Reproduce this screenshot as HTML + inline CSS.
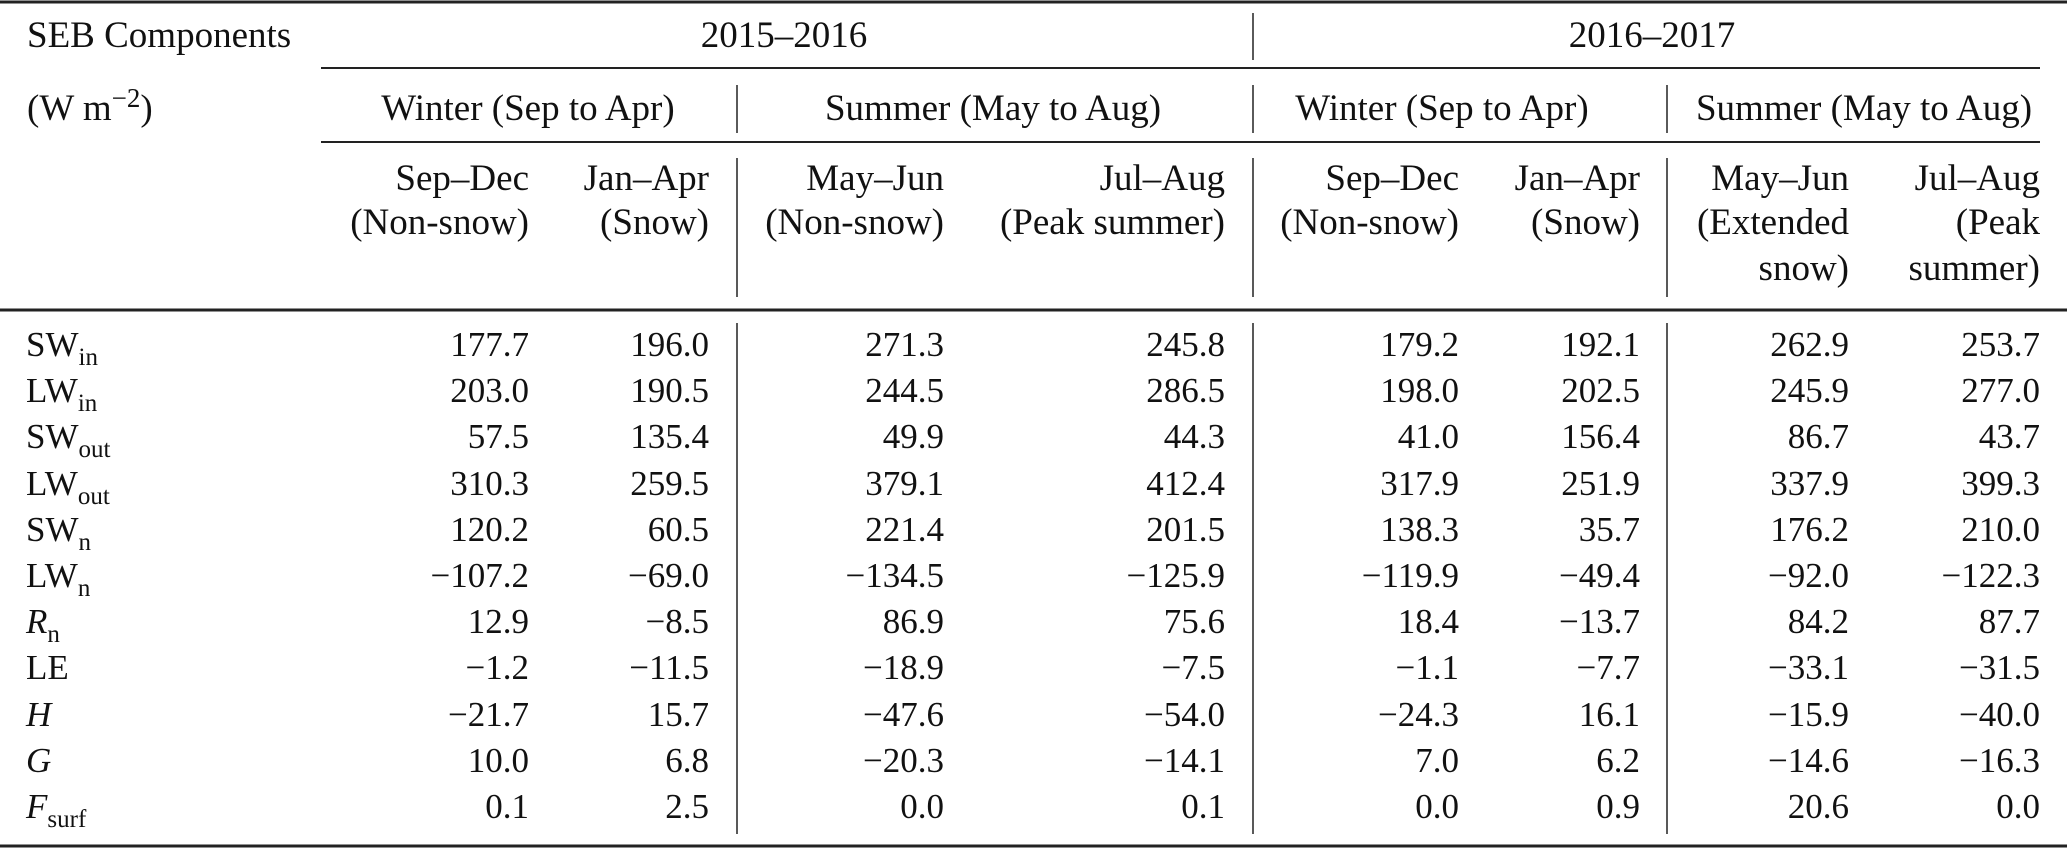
<!DOCTYPE html>
<html><head><meta charset="utf-8"><style>
html,body{margin:0;padding:0;background:#fff;}
svg{display:block;}
text{font-family:"Liberation Serif",serif;font-size:35px;fill:#111;}
.h{font-size:37px;}
.s{font-size:25px;}
.sup{font-size:27px;}
</style></head><body>
<svg width="2067" height="849" viewBox="0 0 2067 849">
<g stroke="#222">
<line x1="0" y1="2" x2="2067" y2="2" stroke-width="3"/>
<line x1="321" y1="68" x2="2040" y2="68" stroke-width="2"/>
<line x1="321" y1="142" x2="2040" y2="142" stroke-width="2"/>
<line x1="0" y1="310" x2="2067" y2="310" stroke-width="3"/>
<line x1="0" y1="846" x2="2067" y2="846" stroke-width="3"/>
<line x1="1253" y1="13" x2="1253" y2="60" stroke-width="1.5"/>
<line x1="737" y1="85" x2="737" y2="133" stroke-width="1.5"/>
<line x1="1253" y1="85" x2="1253" y2="133" stroke-width="1.5"/>
<line x1="1667" y1="85" x2="1667" y2="133" stroke-width="1.5"/>
<line x1="737" y1="158" x2="737" y2="297" stroke-width="1.5"/>
<line x1="1253" y1="158" x2="1253" y2="297" stroke-width="1.5"/>
<line x1="1667" y1="158" x2="1667" y2="297" stroke-width="1.5"/>
<line x1="737" y1="323" x2="737" y2="834" stroke-width="1.5"/>
<line x1="1253" y1="323" x2="1253" y2="834" stroke-width="1.5"/>
<line x1="1667" y1="323" x2="1667" y2="834" stroke-width="1.5"/>
</g>
<g class="h">
<text class="h" x="27" y="47">SEB Components</text>
<text class="h" x="27" y="120">(W m<tspan class="sup" dy="-13">−2</tspan><tspan dy="13">)</tspan></text>
</g>
<g text-anchor="middle">
<text class="h" x="784" y="47">2015–2016</text>
<text class="h" x="1652" y="47">2016–2017</text>
<text class="h" x="528" y="120">Winter (Sep to Apr)</text>
<text class="h" x="993" y="120">Summer (May to Aug)</text>
<text class="h" x="1442" y="120">Winter (Sep to Apr)</text>
<text class="h" x="1864" y="120">Summer (May to Aug)</text>
</g>
<g text-anchor="end">
<text class="h" x="529" y="190">Sep–Dec</text><text class="h" x="529" y="234">(Non-snow)</text>
<text class="h" x="709" y="190">Jan–Apr</text><text class="h" x="709" y="234">(Snow)</text>
<text class="h" x="944" y="190">May–Jun</text><text class="h" x="944" y="234">(Non-snow)</text>
<text class="h" x="1225" y="190">Jul–Aug</text><text class="h" x="1225" y="234">(Peak summer)</text>
<text class="h" x="1459" y="190">Sep–Dec</text><text class="h" x="1459" y="234">(Non-snow)</text>
<text class="h" x="1640" y="190">Jan–Apr</text><text class="h" x="1640" y="234">(Snow)</text>
<text class="h" x="1849" y="190">May–Jun</text><text class="h" x="1849" y="234">(Extended</text><text class="h" x="1849" y="280">snow)</text>
<text class="h" x="2040" y="190">Jul–Aug</text><text class="h" x="2040" y="234">(Peak</text><text class="h" x="2040" y="280">summer)</text>
</g>
<g>
<text x="26" y="356">SW<tspan class="s" dy="9">in</tspan></text>
<text x="26" y="402">LW<tspan class="s" dy="9">in</tspan></text>
<text x="26" y="448">SW<tspan class="s" dy="9">out</tspan></text>
<text x="26" y="495">LW<tspan class="s" dy="9">out</tspan></text>
<text x="26" y="541">SW<tspan class="s" dy="9">n</tspan></text>
<text x="26" y="587">LW<tspan class="s" dy="9">n</tspan></text>
<text x="26" y="633"><tspan font-style="italic">R</tspan><tspan class="s" dy="9">n</tspan></text>
<text x="26" y="679">LE</text>
<text x="26" y="726" font-style="italic">H</text>
<text x="26" y="772" font-style="italic">G</text>
<text x="26" y="818"><tspan font-style="italic">F</tspan><tspan class="s" dy="9">surf</tspan></text>
</g>
<g text-anchor="end">
<text x="529" y="356">177.7</text><text x="709" y="356">196.0</text><text x="944" y="356">271.3</text><text x="1225" y="356">245.8</text><text x="1459" y="356">179.2</text><text x="1640" y="356">192.1</text><text x="1849" y="356">262.9</text><text x="2040" y="356">253.7</text>
<text x="529" y="402">203.0</text><text x="709" y="402">190.5</text><text x="944" y="402">244.5</text><text x="1225" y="402">286.5</text><text x="1459" y="402">198.0</text><text x="1640" y="402">202.5</text><text x="1849" y="402">245.9</text><text x="2040" y="402">277.0</text>
<text x="529" y="448">57.5</text><text x="709" y="448">135.4</text><text x="944" y="448">49.9</text><text x="1225" y="448">44.3</text><text x="1459" y="448">41.0</text><text x="1640" y="448">156.4</text><text x="1849" y="448">86.7</text><text x="2040" y="448">43.7</text>
<text x="529" y="495">310.3</text><text x="709" y="495">259.5</text><text x="944" y="495">379.1</text><text x="1225" y="495">412.4</text><text x="1459" y="495">317.9</text><text x="1640" y="495">251.9</text><text x="1849" y="495">337.9</text><text x="2040" y="495">399.3</text>
<text x="529" y="541">120.2</text><text x="709" y="541">60.5</text><text x="944" y="541">221.4</text><text x="1225" y="541">201.5</text><text x="1459" y="541">138.3</text><text x="1640" y="541">35.7</text><text x="1849" y="541">176.2</text><text x="2040" y="541">210.0</text>
<text x="529" y="587">−107.2</text><text x="709" y="587">−69.0</text><text x="944" y="587">−134.5</text><text x="1225" y="587">−125.9</text><text x="1459" y="587">−119.9</text><text x="1640" y="587">−49.4</text><text x="1849" y="587">−92.0</text><text x="2040" y="587">−122.3</text>
<text x="529" y="633">12.9</text><text x="709" y="633">−8.5</text><text x="944" y="633">86.9</text><text x="1225" y="633">75.6</text><text x="1459" y="633">18.4</text><text x="1640" y="633">−13.7</text><text x="1849" y="633">84.2</text><text x="2040" y="633">87.7</text>
<text x="529" y="679">−1.2</text><text x="709" y="679">−11.5</text><text x="944" y="679">−18.9</text><text x="1225" y="679">−7.5</text><text x="1459" y="679">−1.1</text><text x="1640" y="679">−7.7</text><text x="1849" y="679">−33.1</text><text x="2040" y="679">−31.5</text>
<text x="529" y="726">−21.7</text><text x="709" y="726">15.7</text><text x="944" y="726">−47.6</text><text x="1225" y="726">−54.0</text><text x="1459" y="726">−24.3</text><text x="1640" y="726">16.1</text><text x="1849" y="726">−15.9</text><text x="2040" y="726">−40.0</text>
<text x="529" y="772">10.0</text><text x="709" y="772">6.8</text><text x="944" y="772">−20.3</text><text x="1225" y="772">−14.1</text><text x="1459" y="772">7.0</text><text x="1640" y="772">6.2</text><text x="1849" y="772">−14.6</text><text x="2040" y="772">−16.3</text>
<text x="529" y="818">0.1</text><text x="709" y="818">2.5</text><text x="944" y="818">0.0</text><text x="1225" y="818">0.1</text><text x="1459" y="818">0.0</text><text x="1640" y="818">0.9</text><text x="1849" y="818">20.6</text><text x="2040" y="818">0.0</text>
</g>
</svg>
</body></html>
